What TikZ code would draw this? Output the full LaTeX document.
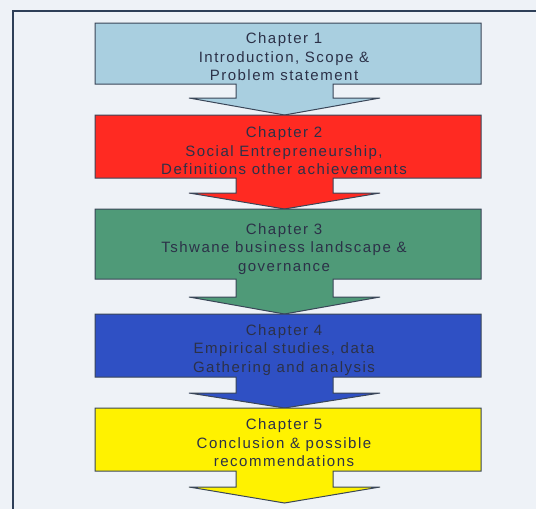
\documentclass[tikz,border=0pt]{standalone}
\usepackage{fontspec}
\setmainfont{Liberation Sans}[LetterSpace=10]
\definecolor{bgc}{HTML}{EEF2F7}
\definecolor{framec}{HTML}{2E3F58}
\definecolor{edgec}{HTML}{3A4658}
\definecolor{txtc}{HTML}{2C3148}
\definecolor{ch1c}{HTML}{A9CFE0}
\definecolor{ch2c}{HTML}{FF2A22}
\definecolor{ch3c}{HTML}{4F9A78}
\definecolor{ch4c}{HTML}{2F50C4}
\definecolor{ch5c}{HTML}{FFF200}
\tikzset{
  callout/.style={draw=edgec, line width=1pt, line join=miter},
  chaptext/.style={align=center, text=txtc, font=\fontsize{15}{18.5}\selectfont, inner sep=0pt},
}
% #1 colour, #2 top, #3 bottom, #4 head top, #5 tip
\newcommand{\chapshape}[5]{%
  \path[callout, fill=#1] (95,#2) -- (481,#2) -- (481,#3) -- (333,#3) -- (333,#4) -- (380,#4)
    -- (284.5,#5) -- (189,#4) -- (236,#4) -- (236,#3) -- (95,#3) -- cycle;}
\begin{document}
\begin{tikzpicture}[x=1pt, y=-1pt]
\useasboundingbox (0,0) rectangle (536,509);
\fill[bgc] (0,0) rectangle (536,509);
\draw[framec, line width=2.2pt] (13,509) -- (13,11) -- (536,11);
\chapshape{ch1c}{23}{84}{98}{115}
\chapshape{ch2c}{115}{178}{193}{209}
\chapshape{ch3c}{209}{279}{297}{314}
\chapshape{ch4c}{314}{377}{393}{408}
\chapshape{ch5c}{408}{471}{487}{503}
\node[chaptext] (c1) at (284,57) {Chapter 1\\Introduction, Scope \&\\Problem statement};
\node[chaptext] (c2) at (284,151) {Chapter 2\\Social Entrepreneurship,\\Definitions other achievements};
\node[chaptext] (c3) at (284,249) {Chapter 3\\Tshwane business landscape \&\\governance};
\node[chaptext] (c4) at (284,350) {Chapter 4\\Empirical studies, data\\Gathering and analysis};
\node[chaptext] (c5) at (284,443) {Chapter 5\\Conclusion \& possible\\recommendations};
\end{tikzpicture}
\end{document}
